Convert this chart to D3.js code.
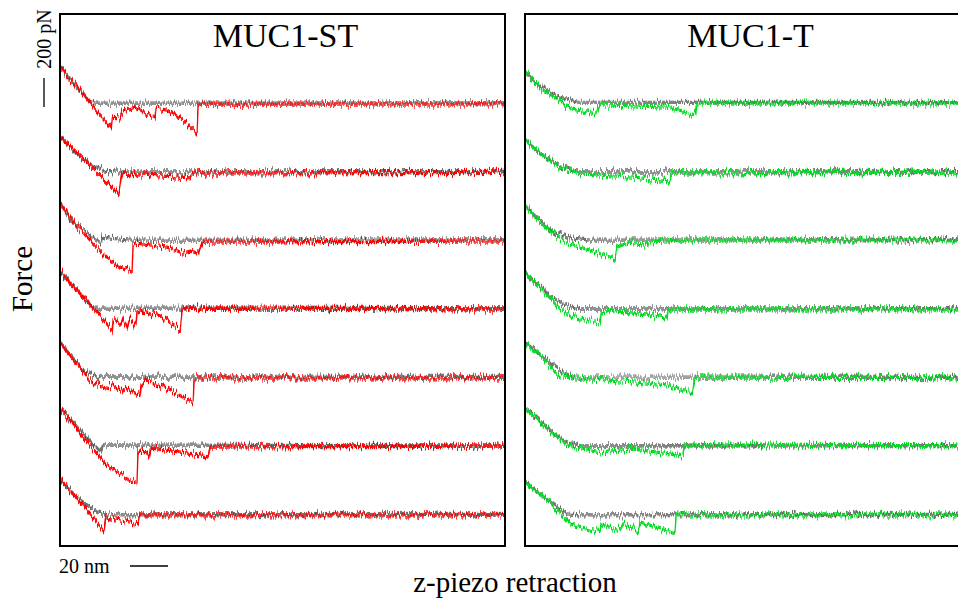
<!DOCTYPE html>
<html>
<head>
<meta charset="utf-8">
<script src="https://cdn.jsdelivr.net/npm/d3@7"></script>
<style>
  html, body { margin: 0; padding: 0; background: #fff; }
  svg { display: block; }
</style>
</head>
<body>
<svg id="chart" width="958" height="602"></svg>
<script>
// Retraction force curves, 7 per sample, stacked with a vertical offset.
// Each curve is a list of [distance (nm), force (pN)] vertices relative to its baseline.
const panelTitles = ["MUC1-ST", "MUC1-T"];
const distanceDomain = [0, 234];         // nm across one panel
const forceDomain = [0, 3670];           // pN over the full panel height
const traceOffsets = [3055, 2580, 2110, 1635, 1160, 690, 215];
const forceBarPn = 200;
const distanceBarNm = 20;

// MUC1-ST: retraction (red) curves
const stRetract = [
  [[0,255],[27,-172],[27.5,-103],[31.6,-110],[32.6,-55],[39.5,-28],[50,-103],[50.5,-35],[56.3,-48],[63.2,-103],[72.1,-207],[72.6,-7],[234,-5]],
  [[0,248],[31,-152],[32.6,-14],[54.2,-28],[68.4,-41],[70,-7],[234,-3]],
  [[0,255],[6.8,124],[15.8,0],[24.7,-124],[31.6,-186],[37.9,-214],[38.4,-35],[40.5,-21],[56.3,-48],[64.7,-90],[68.4,-76],[72.6,-90],[75.3,-14],[234,-5]],
  [[0,262],[27.4,-145],[27.9,-62],[32.1,-103],[33.2,-62],[35.3,-124],[36.8,-62],[40,-117],[40.5,-28],[43.7,-14],[52.6,-48],[63.2,-138],[64.2,7],[234,0]],
  [[0,241],[15.8,-14],[19.5,-48],[26.3,-69],[27.4,-55],[32.6,-97],[33.7,-69],[35.3,-76],[42.1,-124],[42.6,-55],[45.8,-14],[59.5,-97],[70,-172],[70.5,0],[234,0]],
  [[0,262],[24.2,-131],[40.5,-262],[41,-35],[45.8,-41],[46.8,-69],[47.9,-14],[77.9,-69],[79,-7],[234,0]],
  [[0,241],[10.5,90],[23.2,-117],[24.2,-14],[41,-62],[42.1,0],[234,0]]
];

// MUC1-ST: approach (grey) curves
const stApproach = [
  [[0,255],[15.3,14],[18.4,0],[234,2]],
  [[0,248],[9,120],[14,75],[19,28],[24,5],[30,0],[234,2]],
  [[0,255],[6.8,124],[15.8,35],[21.6,-21],[22.1,28],[26.3,14],[36.8,0],[234,2]],
  [[0,262],[14.7,48],[17.4,7],[234,3]],
  [[0,241],[13.2,41],[20,-7],[21,7],[234,3]],
  [[0,262],[15.3,41],[21.6,-41],[22.6,7],[234,0]],
  [[0,241],[10.5,103],[20,14],[23.7,0],[234,3]]
];

// MUC1-T: retraction (green) curves
const tRetract = [
  [[0.5,214],[7.9,103],[18.4,21],[22.1,-28],[30.5,-48],[37.9,-69],[39.5,-14],[44.7,-14],[74.7,-28],[83.2,-55],[89.5,-83],[90.5,0],[234,0]],
  [[0.5,214],[7.9,131],[18.4,35],[30.5,-14],[56.8,-35],[76.3,-62],[76.8,-7],[234,0]],
  [[0.5,228],[13.2,55],[23.7,-28],[35.8,-76],[47.4,-131],[48.4,-48],[53.7,-21],[64.2,-35],[64.7,-14],[81.6,0],[234,0]],
  [[0.5,248],[13.2,75],[16.8,21],[23.7,-48],[39.5,-90],[40,-21],[44.7,-7],[74.7,-62],[75.3,0],[234,0]],
  [[0.5,241],[9.5,138],[18.4,7],[56.8,-28],[74.7,-48],[81.6,-83],[87.9,-103],[89.5,7],[234,0]],
  [[0.5,255],[13.2,103],[22.1,7],[39.5,-41],[56.8,-21],[65.8,-35],[83.2,-69],[83.7,7],[234,0]],
  [[0.5,221],[13.2,90],[18.4,7],[23.7,-62],[39.5,-117],[40,-69],[50,-103],[51.6,-62],[59.5,-110],[60.5,-48],[78.9,-131],[79.5,0],[234,0]]
];

// MUC1-T: approach (grey) curves
const tApproach = [
  [[0.5,214],[7.9,110],[18.4,41],[27.4,7],[234,3]],
  [[0.5,214],[7.9,131],[18.4,35],[27.4,0],[234,2]],
  [[0.5,228],[13.2,69],[25.3,14],[34.2,0],[234,3]],
  [[0.5,248],[13.2,90],[22.1,21],[29,0],[234,3]],
  [[0.5,241],[9.5,145],[20,35],[26.3,7],[234,3]],
  [[0.5,255],[13.2,110],[22.1,21],[29,0],[234,3]],
  [[0.5,221],[13.2,90],[22.1,7],[29,0],[234,3]]
];

const panelTop = 14, panelBottom = 546, panelWidth = 445;
const panels = [
  { title: panelTitles[0], left: 60,  retract: stRetract, approach: stApproach, color: "#ff0000" },
  { title: panelTitles[1], left: 525, retract: tRetract,  approach: tApproach,  color: "#00dc22" }
];
const approachColor = "#6e6e6e";
const serif = "'Liberation Serif', 'Times New Roman', Times, 'DejaVu Serif', serif";

const svg = d3.select("#chart");
const defs = svg.append("defs");

// Measurement noise rendered as a vertical jitter filter on each trace
function jitterFilter(id, seed, amount) {
  const f = defs.append("filter").attr("id", id)
    .attr("filterUnits", "userSpaceOnUse")
    .attr("x", 0).attr("y", 0).attr("width", 1000).attr("height", 602)
    .attr("color-interpolation-filters", "sRGB");
  f.append("feTurbulence").attr("type", "fractalNoise")
    .attr("baseFrequency", "0.75 0.02").attr("numOctaves", 2).attr("seed", seed).attr("result", "n");
  const ct = f.append("feComponentTransfer").attr("in", "n").attr("result", "m");
  ct.append("feFuncR").attr("type", "linear").attr("slope", 0).attr("intercept", 0.5);
  ct.append("feFuncA").attr("type", "linear").attr("slope", 0).attr("intercept", 1);
  f.append("feDisplacementMap").attr("in", "SourceGraphic").attr("in2", "m").attr("result", "d")
    .attr("scale", amount).attr("xChannelSelector", "R").attr("yChannelSelector", "G");
  f.append("feMorphology").attr("in", "d").attr("operator", "dilate").attr("radius", "0 0.8");
}
jitterFilter("noiseRetract", 7, 13);
jitterFilter("noiseApproach", 21, 11);

const y = d3.scaleLinear().domain(forceDomain).range([panelBottom, panelTop]);

panels.forEach((p, pi) => {
  const x = d3.scaleLinear().domain(distanceDomain).range([p.left, p.left + panelWidth]);
  const clipId = "clip" + pi;
  defs.append("clipPath").attr("id", clipId).append("rect")
    .attr("x", p.left).attr("y", panelTop).attr("width", panelWidth).attr("height", panelBottom - panelTop);

  const g = svg.append("g").attr("clip-path", `url(#${clipId})`);

  traceOffsets.forEach((off, i) => {
    const line = d3.line().x(d => x(d[0])).y(d => y(off + d[1]));
    g.append("path").datum(p.approach[i])
      .attr("d", line).attr("fill", "none")
      .attr("stroke", approachColor).attr("stroke-width", 1.3)
      .attr("filter", "url(#noiseApproach)");
    g.append("path").datum(p.retract[i])
      .attr("d", line).attr("fill", "none")
      .attr("stroke", p.color).attr("stroke-width", 1.3)
      .attr("filter", "url(#noiseRetract)");
  });

  svg.append("rect")
    .attr("x", p.left).attr("y", panelTop)
    .attr("width", panelWidth).attr("height", panelBottom - panelTop)
    .attr("fill", "none").attr("stroke", "#000").attr("stroke-width", 2);

  svg.append("text")
    .attr("x", p.left + panelWidth / 2 + 3).attr("y", 47)
    .attr("text-anchor", "middle").attr("font-size", 34)
    .attr("font-family", serif)
    .text(p.title);
});

// Scale bars drawn from the same scales as the traces
const x0 = d3.scaleLinear().domain(distanceDomain).range([60, 60 + panelWidth]);
const forceBarLen = y(0) - y(forceBarPn);
const distBarLen = x0(distanceBarNm) - x0(0);

svg.append("line")
  .attr("x1", 44).attr("x2", 44)
  .attr("y1", 78).attr("y2", 78 + forceBarLen)
  .attr("stroke", "#000").attr("stroke-width", 1.3);
svg.append("text")
  .attr("transform", "translate(51,39) rotate(-90)")
  .attr("text-anchor", "middle").attr("font-size", 20)
  .attr("font-family", serif)
  .text(forceBarPn + " pN");

svg.append("line")
  .attr("x1", 130).attr("x2", 130 + distBarLen)
  .attr("y1", 566).attr("y2", 566)
  .attr("stroke", "#000").attr("stroke-width", 1.3);
svg.append("text")
  .attr("x", 59).attr("y", 573)
  .attr("font-size", 20)
  .attr("font-family", serif)
  .text(distanceBarNm + " nm");

// Axis titles
svg.append("text")
  .attr("transform", "translate(32,279) rotate(-90)")
  .attr("text-anchor", "middle").attr("font-size", 29)
  .attr("font-family", serif)
  .text("Force");
svg.append("text")
  .attr("x", 515).attr("y", 592)
  .attr("text-anchor", "middle").attr("font-size", 29)
  .attr("font-family", serif)
  .text("z-piezo retraction");
</script>
</body>
</html>
